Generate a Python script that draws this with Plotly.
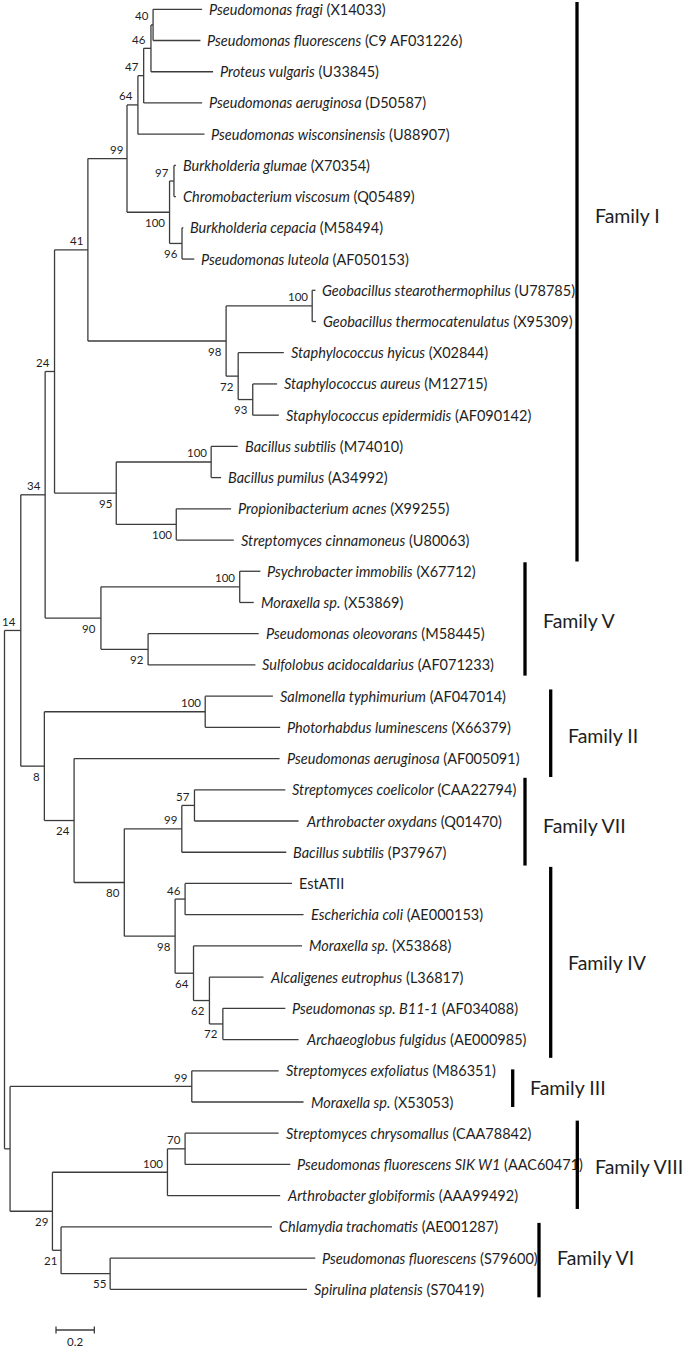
import plotly.graph_objects as go

# ---------------- DATA ----------------
leaf_species = [
    "Pseudomonas fragi", "Pseudomonas fluorescens", "Proteus vulgaris", "Pseudomonas aeruginosa",
    "Pseudomonas wisconsinensis", "Burkholderia glumae", "Chromobacterium viscosum", "Burkholderia cepacia",
    "Pseudomonas luteola", "Geobacillus stearothermophilus", "Geobacillus thermocatenulatus",
    "Staphylococcus hyicus", "Staphylococcus aureus", "Staphylococcus epidermidis", "Bacillus subtilis",
    "Bacillus pumilus", "Propionibacterium acnes", "Streptomyces cinnamoneus", "Psychrobacter immobilis",
    "Moraxella sp.", "Pseudomonas oleovorans", "Sulfolobus acidocaldarius", "Salmonella typhimurium",
    "Photorhabdus luminescens", "Pseudomonas aeruginosa", "Streptomyces coelicolor", "Arthrobacter oxydans",
    "Bacillus subtilis", "", "Escherichia coli", "Moraxella sp.", "Alcaligenes eutrophus",
    "Pseudomonas sp. B11-1", "Archaeoglobus fulgidus", "Streptomyces exfoliatus", "Moraxella sp.",
    "Streptomyces chrysomallus", "Pseudomonas fluorescens SIK W1", "Arthrobacter globiformis",
    "Chlamydia trachomatis", "Pseudomonas fluorescens", "Spirulina platensis",
]
leaf_accession = [
    "X14033", "C9 AF031226", "U33845", "D50587", "U88907", "X70354", "Q05489", "M58494", "AF050153",
    "U78785", "X95309", "X02844", "M12715", "AF090142", "M74010", "A34992", "X99255", "U80063",
    "X67712", "X53869", "M58445", "AF071233", "AF047014", "X66379", "AF005091", "CAA22794", "Q01470",
    "P37967", "EstATII", "AE000153", "X53868", "L36817", "AF034088", "AE000985", "M86351", "X53053",
    "CAA78842", "AAC60471", "AAA99492", "AE001287", "S79600", "S70419",
]
leaf_parent = [
    "A", "A", "B", "C", "D", "G", "G", "H", "H", "AL", "AL", "AM", "AN", "AN", "BS", "BS", "L", "L",
    "O", "O", "P", "P", "U", "U", "V", "X", "X", "W", "Z", "Z", "AB", "AC", "AD", "AD", "AE", "AE",
    "AF", "AF", "AG", "AI", "AJ", "AJ",
]
leaf_branch = [
    0.256, 0.247, 0.324, 0.305, 0.347, 0.010, 0.010, 0.007, 0.064, 0.017, 0.020, 0.238, 0.127, 0.136,
    0.139, 0.052, 0.286, 0.300, 0.108, 0.073, 0.577, 0.560, 0.353, 0.391, 1.072, 0.474, 0.543, 0.545,
    0.558, 0.618, 0.566, 0.282, 0.326, 0.395, 0.453, 0.583, 0.488, 0.549, 0.588, 1.100, 1.070, 1.027,
]

node_ids = ["root", "R", "S", "M", "T", "J", "N", "I", "K", "E", "AK", "D", "F", "C", "B", "A", "G", "H",
            "AL", "AM", "AN", "BS", "L", "O", "P", "U", "V", "Y", "W", "X", "AA", "Z", "AB", "AC", "AD",
            "AE", "AH", "AG", "AF", "AI", "AJ"]
node_parent = [None, "root", "root", "R", "R", "M", "M", "J", "J", "I", "I", "E", "E", "D", "C", "B", "F",
               "F", "AK", "AK", "AM", "K", "K", "N", "N", "T", "T", "V", "Y", "W", "Y", "AA", "AA", "AB",
               "AC", "S", "S", "AH", "AG", "AH", "AI"]
node_branch = [0.0, 0.085, 0.029, 0.127, 0.123, 0.049, 0.291, 0.174, 0.322, 0.204, 0.721, 0.057, 0.222,
               0.030, 0.038, 0.011, 0.023, 0.065, 0.449, 0.063, 0.076, 0.495, 0.313, 0.724, 0.246, 0.839,
               0.155, 0.262, 0.300, 0.066, 0.265, 0.052, 0.096, 0.083, 0.070, 0.948, 0.221, 0.600, 0.092,
               0.045, 0.256]
node_bootstrap = [None, 14, None, 34, 8, 24, 90, 41, 95, 99, 98, 64, 100, 47, 46, 40, 97, 96, 100, 72, 93,
                  100, 100, 100, 92, 100, 24, 80, 99, 57, 98, 46, 64, 62, 72, 99, 29, 100, 70, 21, 55]

family_names = ["Family I", "Family V", "Family II", "Family VII", "Family IV", "Family III",
                "Family VIII", "Family VI"]
family_first_leaf = [0, 18, 22, 25, 28, 34, 36, 39]
family_last_leaf = [17, 21, 24, 27, 33, 35, 38, 41]

scale_bar_length = 0.2

# ---------------- STYLE / LAYOUT ----------------
W, H = 684, 1349
PX_PER_UNIT = 191.7      # horizontal pixels per substitution unit
ROOT_PX = 4.5
LEAF0_PX = 9.3
LEAF_STEP_PX = 31.22

family_bar_px = [577, 525, 550.7, 525, 550.7, 512.7, 577.3, 539]
family_pad_top_px = [7.3, 9, 6.7, 12, 16.6, 1.4, 12.6, 4]
family_pad_bot_px = [21.4, 10.7, 18.4, 13.3, 18.3, 5, 13.3, 8]
family_label_dy_px = [-66, 2, 2, 4, 0, -1, 2, -3]

FONT = "Lato, 'Open Sans', sans-serif"
LINE_COLOR = "#3c3c3c"
TEXT_COLOR = "#1e1e1e"


def px2x(p):
    return (p - ROOT_PX) / PX_PER_UNIT


def py2y(p):
    return (p - LEAF0_PX) / LEAF_STEP_PX


# ---------------- TREE GEOMETRY ----------------
children = {n: [] for n in node_ids}
for nid, par in zip(node_ids, node_parent):
    if par is not None:
        children[par].append(("node", nid))
for i, par in enumerate(leaf_parent):
    children[par].append(("leaf", i))

branch_of = dict(zip(node_ids, node_branch))
parent_of = dict(zip(node_ids, node_parent))

depth = {}


def node_depth(n):
    if n in depth:
        return depth[n]
    p = parent_of[n]
    d = 0.0 if p is None else node_depth(p) + branch_of[n]
    depth[n] = d
    return d


for n in node_ids:
    node_depth(n)

leaf_depth = [depth[p] + b for p, b in zip(leaf_parent, leaf_branch)]

ypos = {}


def child_y(c):
    kind, ref = c
    return float(ref) if kind == "leaf" else node_y(ref)


def node_y(n):
    if n in ypos:
        return ypos[n]
    ys = [child_y(c) for c in children[n]]
    ypos[n] = (min(ys) + max(ys)) / 2
    return ypos[n]


for n in node_ids:
    node_y(n)

bx, by = [], []
for n in node_ids:
    ys = [child_y(c) for c in children[n]]
    bx += [depth[n], depth[n], None]
    by += [min(ys), max(ys), None]
    p = parent_of[n]
    if p is not None:
        bx += [depth[p], depth[n], None]
        by += [ypos[n], ypos[n], None]
for i, p in enumerate(leaf_parent):
    bx += [depth[p], leaf_depth[i], None]
    by += [i, i, None]

fig = go.Figure()
fig.add_trace(go.Scatter(x=bx, y=by, mode="lines", line=dict(color=LINE_COLOR, width=1.3),
                         hoverinfo="skip", showlegend=False))

annotations = []
# leaf labels
for i, (sp, acc) in enumerate(zip(leaf_species, leaf_accession)):
    txt = f"<i>{sp}</i> ({acc})" if sp else acc
    annotations.append(dict(x=leaf_depth[i], y=i, text=txt, xanchor="left", yanchor="middle",
                            xshift=5, showarrow=False,
                            font=dict(family=FONT, size=14.5, color=TEXT_COLOR)))

# bootstrap labels
for n, bs in zip(node_ids, node_bootstrap):
    if bs is None:
        continue
    p = parent_of[n]
    upper = ypos[n] < ypos[p]
    annotations.append(dict(x=depth[n], y=ypos[n], text=str(bs), xanchor="right", yanchor="middle",
                            xshift=-2.5, yshift=9 if upper else -10, showarrow=False,
                            font=dict(family=FONT, size=11.5, color=TEXT_COLOR)))

# family bars
fx, fy = [], []
for k, name in enumerate(family_names):
    xb = px2x(family_bar_px[k])
    y0 = family_first_leaf[k] - family_pad_top_px[k] / LEAF_STEP_PX
    y1 = family_last_leaf[k] + family_pad_bot_px[k] / LEAF_STEP_PX
    fx += [xb, xb, None]
    fy += [y0, y1, None]
    annotations.append(dict(x=xb, y=(y0 + y1) / 2, text=name, xanchor="left", yanchor="middle",
                            xshift=15.5, yshift=-family_label_dy_px[k], showarrow=False,
                            font=dict(family=FONT, size=19.5, color=TEXT_COLOR)))
fig.add_trace(go.Scatter(x=fx, y=fy, mode="lines", line=dict(color="#000000", width=3.3),
                         hoverinfo="skip", showlegend=False))

# scale bar
sb_x0 = px2x(56)
sb_y = py2y(1330)
tick = 3.5 / LEAF_STEP_PX
sx = [sb_x0, sb_x0 + scale_bar_length, None, sb_x0, sb_x0, None,
      sb_x0 + scale_bar_length, sb_x0 + scale_bar_length, None]
sy = [sb_y, sb_y, None, sb_y - tick, sb_y + tick, None, sb_y - tick, sb_y + tick, None]
fig.add_trace(go.Scatter(x=sx, y=sy, mode="lines", line=dict(color=LINE_COLOR, width=1.3),
                         hoverinfo="skip", showlegend=False))
annotations.append(dict(x=sb_x0 + scale_bar_length / 2, y=sb_y, text=str(scale_bar_length),
                        xanchor="center", yanchor="middle", yshift=-11, showarrow=False,
                        font=dict(family=FONT, size=11.5, color=TEXT_COLOR)))

fig.update_layout(
    width=W, height=H, margin=dict(l=0, r=0, t=0, b=0),
    paper_bgcolor="white", plot_bgcolor="white",
    xaxis=dict(range=[px2x(0), px2x(W)], visible=False, fixedrange=True),
    yaxis=dict(range=[py2y(H), py2y(0)], visible=False, fixedrange=True),
    annotations=annotations,
    showlegend=False,
)

fig.write_html(
    "out.html",
    config={"displayModeBar": False},
    post_script="document.body.style.margin='0';document.body.style.padding='0';",
)
